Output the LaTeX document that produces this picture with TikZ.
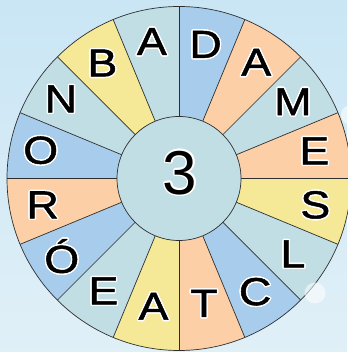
\documentclass[tikz,border=0pt]{standalone}
\usepackage{fontspec}
\setmainfont{Liberation Sans}
\newfontfamily\wheelfont[FakeStretch=1.15,FakeBold=1.3]{Liberation Sans}
\usepackage[copies]{contour}
\contourlength{1.4pt}
\definecolor{wheelblue}{rgb}{0.66,0.80,0.92}
\definecolor{wheelorange}{rgb}{0.99,0.81,0.65}
\definecolor{wheelteal}{rgb}{0.76,0.87,0.90}
\definecolor{wheelyellow}{rgb}{0.96,0.91,0.59}
\definecolor{skytop}{rgb}{0.79,0.90,0.96}
\definecolor{skybottom}{rgb}{0.88,0.94,0.97}
\definecolor{rim}{rgb}{0.18,0.18,0.18}
\tikzset{
  spoke/.style={draw=rim, line width=0.7pt},
  letter/.style={inner sep=0pt, font=\wheelfont\fontsize{39}{39}\selectfont},
  hub/.style={
    circle, draw=rim, line width=0.7pt, fill=wheelteal,
    minimum size=124pt, inner sep=0pt
  },
  digit/.style={inner sep=0pt, font=\fontsize{62}{62}\selectfont},
  bubble/.style={fill=white, opacity=0.55}
}

\begin{document}
\begin{tikzpicture}[x=1pt,y=1pt]
    % Sky background with faint bubbles.
    \shade[top color=skytop, bottom color=skybottom] (0,0) rectangle (347,352);
    \useasboundingbox (0,0) rectangle (347,352);
    \fill[bubble] (351,237) circle (10);
    \coordinate (c) at (179,173.5);

    % Coloured sectors with their letters, clockwise from the top.
    \foreach \i/\txt/\col/\rad in {
        0/D/wheelblue/136, 1/A/wheelorange/139, 2/M/wheelteal/137,
        3/E/wheelorange/138, 4/S/wheelyellow/139, 5/L/wheelteal/137,
        6/C/wheelblue/137, 7/T/wheelorange/128, 8/A/wheelyellow/131,
        9/E/wheelteal/136, 10/Ó/wheelblue/141, 11/R/wheelorange/139,
        12/O/wheelblue/141, 13/N/wheelteal/142, 14/B/wheelyellow/138,
        15/A/wheelteal/139} {
      \fill[\col] (c) -- ([shift={(90-22.5*\i:172)}]c)
        arc[start angle=90-22.5*\i, end angle=67.5-22.5*\i, radius=172] -- cycle;
      \node[letter] (l\i) at ([shift={(78.75-22.5*\i:\rad)}]c)
        {\contour{white}{\txt}};
    }

    % Spokes and rim.
    \foreach \a in {0,22.5,...,337.5}
      \draw[spoke] (c) -- ([shift={(\a:172)}]c);
    \draw[spoke] (c) circle (172);

    % Hub with the number.
    \node[hub] (hub) at (c) {};
    \node[digit] (num) at ([xshift=1,yshift=5]c) {\contour{white}{3}};

    \fill[bubble] (315,59) circle (10.5);
  \end{tikzpicture}
\end{document}
